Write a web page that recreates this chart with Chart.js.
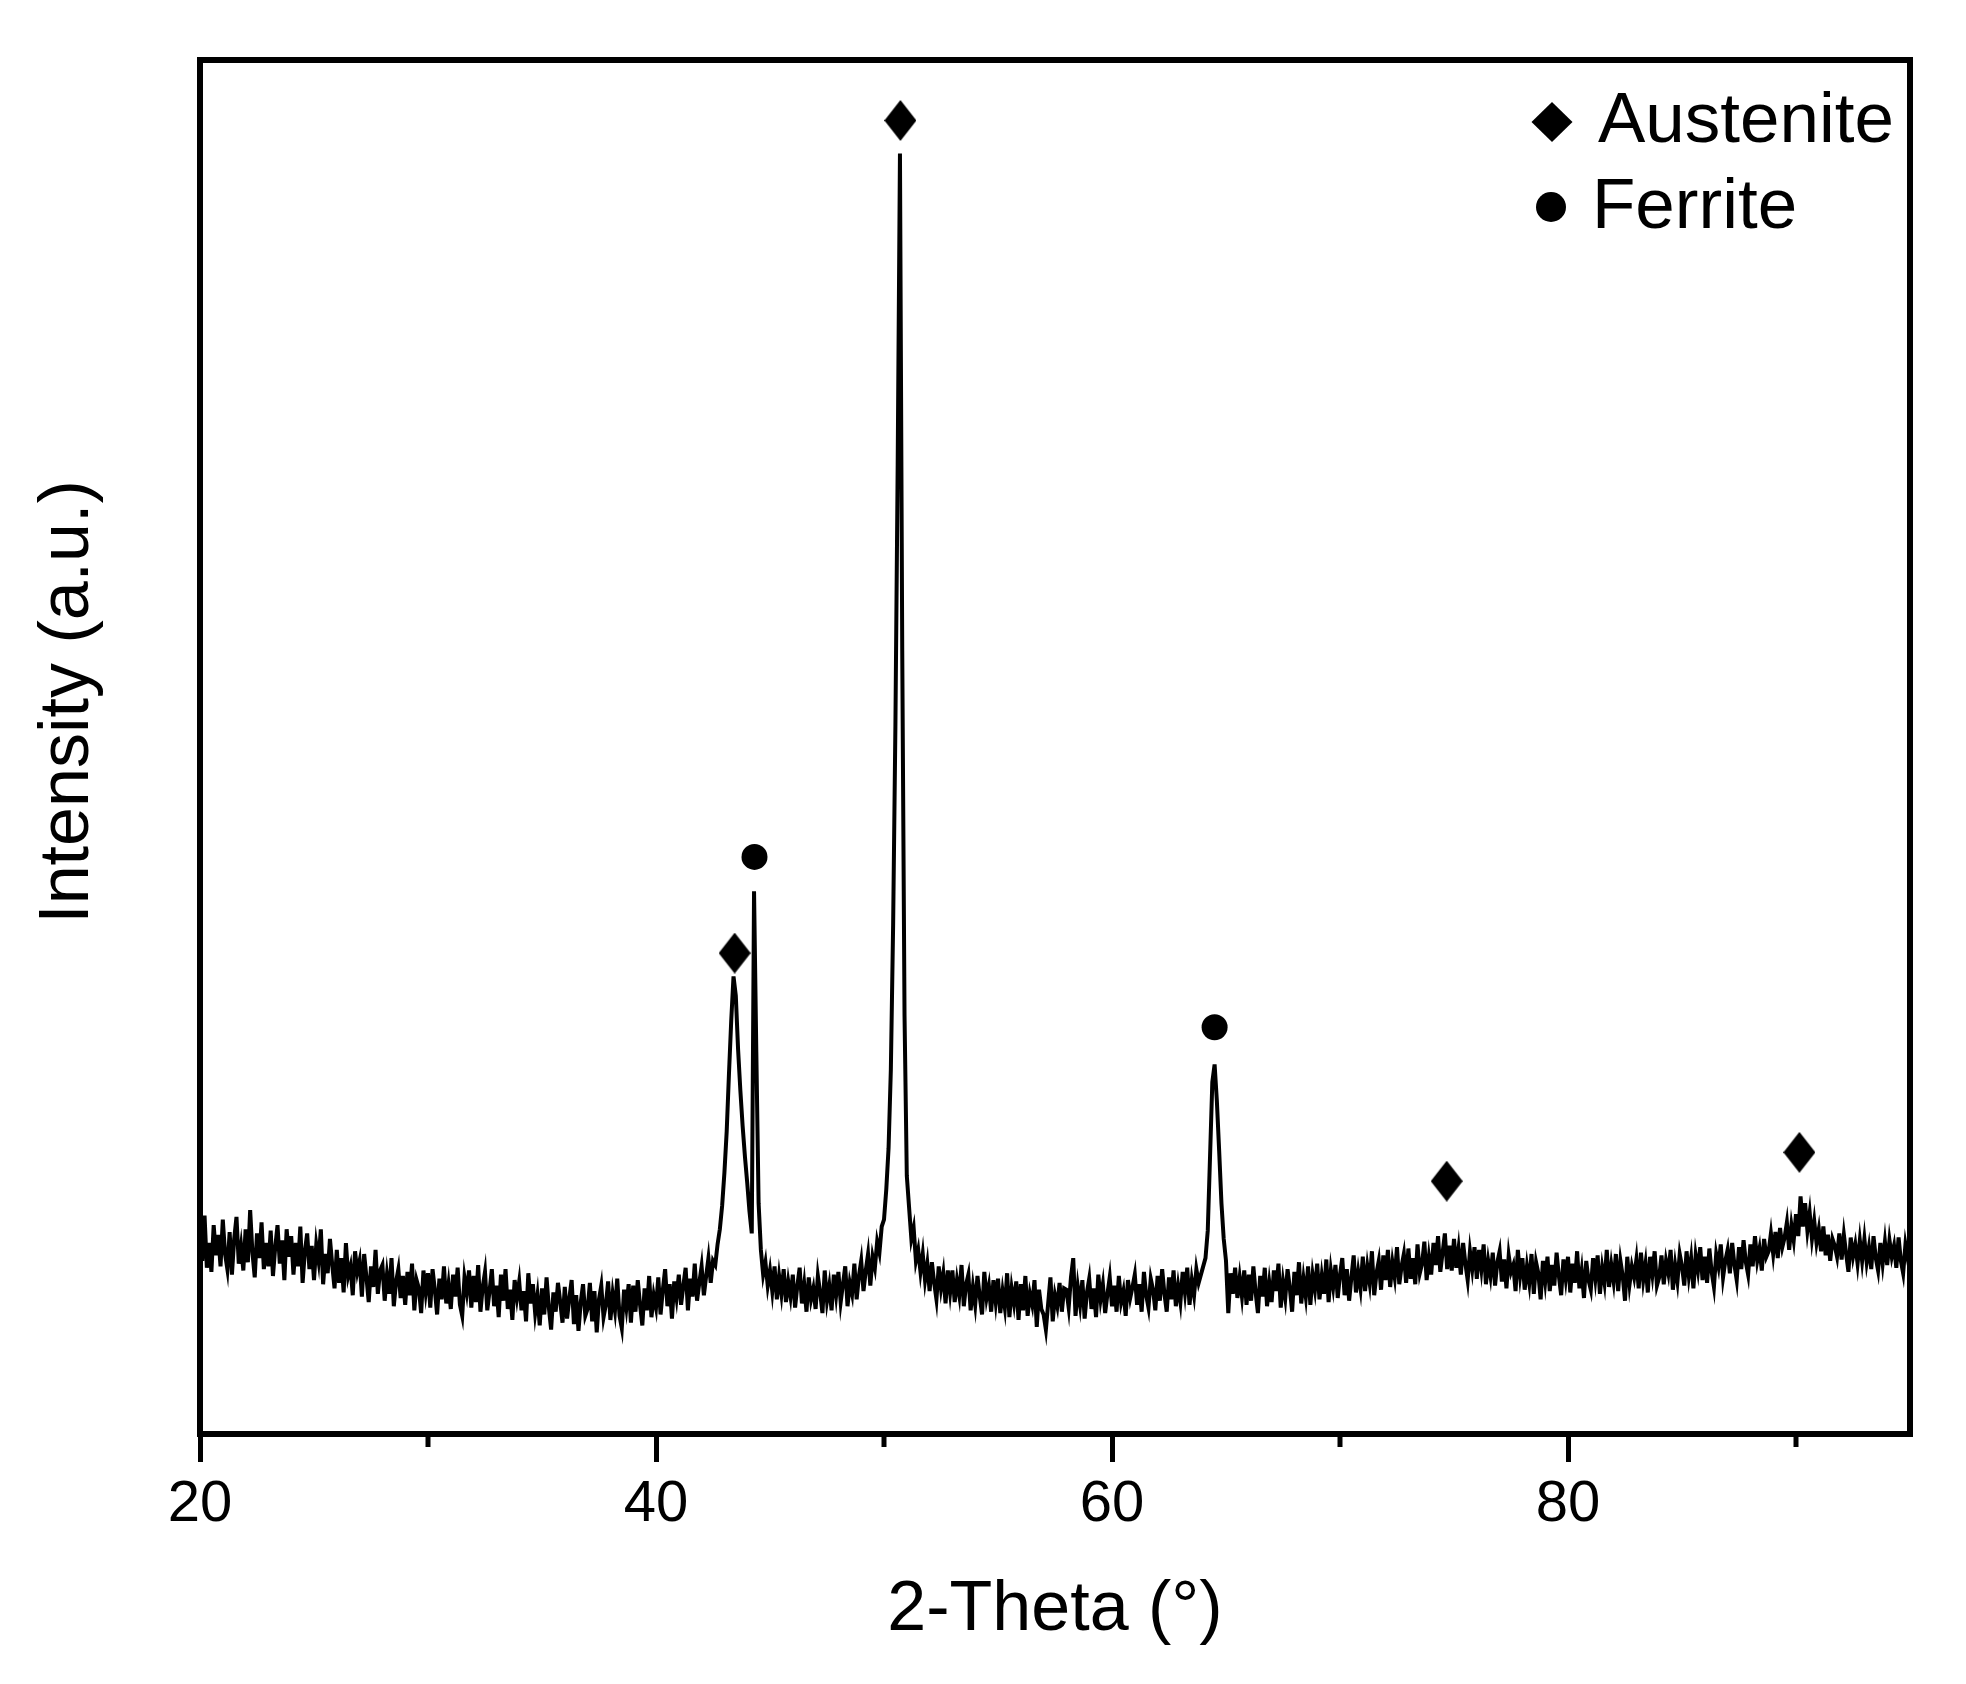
<!DOCTYPE html>
<html>
<head>
<meta charset="utf-8">
<script src="https://cdn.jsdelivr.net/npm/chart.js@4.4.1/dist/chart.umd.min.js"></script>
<style>
  html, body { margin: 0; padding: 0; background: #ffffff; }
  #wrap { width: 1966px; height: 1684px; }
</style>
</head>
<body>
<div id="wrap"><canvas id="c" width="1966" height="1684"></canvas></div>
<script>
// ---- data ----
const thetaStart = 20;      // first 2-theta sample (deg)
const thetaStep = 0.1;      // sampling step (deg)
const intensity = [
  14.8, 12.6, 15.9, 12.1, 13.9, 11.8, 15.2, 13.0, 14.5, 12.2,
  15.6, 13.1, 12.0, 14.7, 11.6, 14.2, 15.8, 12.4, 13.7, 11.9,
  14.9, 12.5, 16.3, 13.2, 11.4, 14.6, 12.8, 15.4, 12.0, 13.9,
  12.2, 14.8, 11.5, 13.6, 15.2, 12.4, 14.1, 11.2, 14.9, 12.9,
  14.4, 11.6, 13.9, 12.2, 15.1, 11.0, 13.3, 14.6, 12.0, 13.7,
  11.2, 13.8, 12.6, 14.9, 10.9, 13.1, 11.7, 14.2, 12.3, 10.6,
  13.4, 11.0, 12.8, 10.3, 13.9, 11.5, 12.2, 10.1, 13.3, 11.8,
  12.6, 10.0, 13.1, 11.4, 9.6, 12.2, 10.7, 13.4, 10.2, 11.9,
  12.3, 9.7, 11.6, 10.2, 12.8, 9.3, 11.1, 12.0, 9.9, 11.5,
  9.4, 11.8, 10.1, 12.4, 9.0, 11.2, 10.6, 8.8, 11.9, 10.3,
  11.7, 9.2, 12.0, 10.5, 8.7, 11.3, 9.8, 12.2, 9.5, 10.9,
  9.1, 11.6, 10.0, 12.1, 9.4, 8.6, 11.4, 10.3, 11.9, 9.2,
  11.5, 9.6, 12.3, 8.9, 10.7, 11.8, 9.0, 10.4, 12.0, 9.3,
  10.8, 8.5, 11.6, 9.7, 12.0, 9.1, 10.5, 8.3, 11.2, 9.9,
  11.1, 9.0, 10.4, 8.2, 11.7, 9.5, 10.9, 8.8, 10.1, 7.9,
  10.6, 8.7, 11.4, 9.2, 7.6, 10.3, 8.9, 11.0, 9.6, 8.1,
  10.7, 8.4, 9.9, 11.2, 8.0, 10.1, 7.5, 9.6, 10.9, 8.6,
  9.1, 11.0, 8.2, 10.4, 7.4, 9.8, 10.8, 8.5, 9.4, 11.1,
  8.3, 10.2, 9.0, 11.3, 8.6, 7.7, 10.5, 9.2, 10.9, 8.1,
  10.8, 8.9, 11.2, 9.4, 7.9, 10.6, 9.0, 11.5, 8.5, 10.1,
  9.2, 11.4, 8.7, 10.5, 12.0, 9.3, 10.9, 8.4, 11.1, 9.9,
  11.6, 9.4, 10.8, 12.1, 9.0, 11.3, 10.0, 12.4, 9.7, 11.0,
  12.2, 10.1, 11.5, 12.8, 11.0, 12.6, 12.3, 13.8, 14.9, 16.6,
  19.0, 22.0, 26.2, 30.1, 33.3, 31.9, 28.0, 25.0, 22.4, 20.2,
  18.3, 16.2, 14.6, 39.5, 27.8, 16.8, 13.4, 11.6, 12.5, 10.8,
  11.9, 10.4, 12.2, 9.8, 11.5, 10.2, 12.0, 9.6, 11.1, 10.0,
  11.6, 9.2, 10.8, 12.1, 9.5, 10.9, 8.9, 11.4, 9.8, 10.6,
  9.1, 11.5, 10.3, 8.8, 11.9, 9.7, 10.8, 9.0, 11.6, 10.1,
  11.8, 9.6, 10.9, 12.2, 9.3, 11.0, 10.2, 12.4, 9.8, 11.5,
  12.6, 10.4, 11.9, 13.1, 10.8, 12.9, 12.1, 14.0, 13.2, 15.1,
  15.6, 17.8, 20.8, 26.5, 37.0, 51.5, 70.5, 93.2, 57.0, 30.5,
  18.8, 16.5, 14.2, 15.0, 12.6, 13.4, 11.8, 13.1, 11.2, 12.4,
  10.4, 12.5, 11.0, 9.8, 12.2, 10.6, 11.7, 9.5, 11.9, 10.3,
  11.9, 9.6, 11.2, 10.1, 12.3, 9.3, 10.9, 11.6, 9.0, 10.7,
  9.4, 11.5, 10.0, 8.7, 11.8, 9.9, 10.8, 8.9, 11.2, 9.6,
  11.3, 8.8, 10.4, 9.2, 11.7, 8.5, 10.6, 9.5, 11.1, 8.3,
  10.9, 9.0, 11.5, 8.6, 10.2, 9.4, 11.2, 7.8, 10.5, 9.1,
  8.7, 7.6, 9.5, 11.4, 8.2, 10.1, 9.3, 11.0, 8.9, 10.6,
  10.5, 9.2, 11.4, 12.8, 8.6, 10.7, 9.4, 11.2, 8.4, 10.3,
  11.3, 9.1, 10.6, 8.5, 11.6, 9.8, 10.9, 8.8, 10.2, 11.4,
  9.3, 10.8, 8.9, 11.5, 9.6, 10.4, 8.6, 11.2, 9.9, 10.7,
  11.6, 9.4, 10.9, 8.9, 11.8, 10.1, 9.2, 11.3, 10.5, 9.0,
  11.5, 9.7, 12.0, 10.2, 8.9, 11.4, 9.8, 11.9, 9.3, 10.8,
  9.6, 11.8, 10.3, 12.1, 9.4, 11.2, 10.1, 12.0, 11.0, 11.6,
  12.2, 12.8, 14.8, 20.2, 25.6, 26.9, 24.2, 20.6, 16.8, 14.2,
  12.6, 8.8, 11.7, 10.2, 12.1, 9.9, 11.4, 10.0, 11.9, 9.4,
  11.6, 9.7, 12.2, 10.3, 8.8, 11.5, 10.0, 12.1, 9.3, 11.0,
  9.6, 11.9, 10.4, 12.4, 9.2, 11.1, 9.9, 12.0, 10.6, 8.9,
  11.8, 10.1, 12.5, 9.5, 11.3, 10.0, 12.2, 9.4, 11.6, 10.5,
  12.4, 9.8, 11.5, 10.2, 12.7, 9.6, 11.9, 10.7, 12.3, 9.9,
  11.6, 12.8, 10.1, 12.0, 9.7, 11.4, 13.0, 10.3, 11.8, 10.6,
  12.9, 10.4, 12.2, 11.0, 13.3, 10.1, 11.7, 12.6, 10.5, 13.0,
  11.2, 13.4, 10.7, 12.5, 11.4, 13.6, 10.9, 12.2, 13.1, 11.0,
  13.5, 11.3, 12.8, 10.9, 13.8, 11.7, 12.4, 14.0, 11.2, 12.9,
  11.6, 13.9, 12.3, 14.4, 11.8, 13.2, 14.6, 12.0, 13.7, 11.9,
  14.2, 12.1, 13.5, 11.6, 13.9, 12.4, 11.2, 13.3, 12.0, 13.6,
  11.3, 13.4, 12.0, 13.8, 10.9, 12.6, 11.5, 13.2, 10.8, 12.5,
  13.3, 11.1, 12.7, 10.6, 13.0, 11.8, 12.3, 10.4, 13.4, 11.5,
  12.8, 10.5, 12.2, 11.0, 13.1, 10.2, 12.5, 11.7, 9.8, 12.6,
  11.1, 12.9, 10.4, 12.3, 10.8, 13.2, 11.5, 10.1, 12.7, 11.3,
  12.9, 10.3, 12.4, 11.0, 13.3, 10.6, 11.9, 9.9, 12.6, 11.2,
  10.5, 12.8, 11.3, 13.0, 10.2, 12.1, 11.0, 13.4, 10.7, 12.3,
  11.1, 13.1, 10.4, 12.6, 11.5, 9.7, 12.9, 10.9, 12.2, 11.4,
  12.7, 10.6, 13.2, 11.2, 12.4, 10.3, 12.9, 11.6, 13.3, 10.8,
  11.4, 13.0, 10.9, 12.6, 11.7, 13.4, 10.5, 12.3, 11.1, 13.1,
  12.2, 10.8, 13.3, 11.5, 12.8, 10.6, 13.0, 11.9, 13.6, 11.2,
  12.9, 11.0, 13.5, 11.8, 10.7, 13.1, 12.2, 13.8, 11.4, 12.6,
  13.4, 11.7, 13.9, 12.3, 11.2, 13.6, 12.0, 14.1, 12.5, 11.6,
  13.8, 12.2, 14.4, 12.6, 13.5, 11.9, 14.2, 12.9, 13.3, 14.6,
  13.1, 14.7, 12.8, 15.0, 13.6, 14.3, 15.4, 13.4, 15.2, 14.1,
  16.0, 14.4, 17.3, 15.1, 16.8, 14.8, 16.1, 14.2, 15.5, 13.9,
  14.9, 13.3, 15.1, 13.0, 14.5, 12.6, 14.2, 13.7, 12.9, 14.6,
  12.7, 14.5, 13.1, 11.8, 14.3, 12.9, 13.8, 12.4, 14.1, 12.6,
  14.2, 12.5, 13.6, 12.0, 14.4, 12.8, 11.9, 13.9, 12.4, 14.0,
  12.3, 14.1, 12.9, 13.7, 12.1, 14.3, 12.6, 11.7, 13.8, 12.8,
  13.6
];

// phase markers placed above the peaks
const austeniteTheta = [43.45, 50.72, 74.68, 90.15];
const austeniteMark  = [35.0, 95.6, 18.4, 20.5];
const ferriteTheta   = [44.32, 64.50];
const ferriteMark    = [42.0, 29.6];

// axis
const xMin = 20, xMax = 95;
const majorTicks = [20, 40, 60, 80];
const minorTicks = [30, 50, 70, 90];
const xTitle = '2-Theta (°)';
const yTitle = 'Intensity (a.u.)';
const legendNames = ['Austenite', 'Ferrite'];

// ---- build ----
const FONT = "'Liberation Sans', Arial, Helvetica, sans-serif";
const pattern = intensity.map((v, i) => ({ x: Math.round((thetaStart + i * thetaStep) * 100) / 100, y: v }));
const austPts = austeniteTheta.map((t, i) => ({ x: t, y: austeniteMark[i] }));
const ferrPts = ferriteTheta.map((t, i) => ({ x: t, y: ferriteMark[i] }));

function diamondCanvas(w, h) {
  const c = document.createElement('canvas');
  c.width = w; c.height = h;
  const g = c.getContext('2d');
  g.fillStyle = '#000';
  g.beginPath();
  g.moveTo(w / 2, 0); g.lineTo(w, h / 2); g.lineTo(w / 2, h); g.lineTo(0, h / 2);
  g.closePath(); g.fill();
  return c;
}
const diamondImg = diamondCanvas(32, 41);

const decorPlugin = {
  id: 'decor',
  afterDraw(chart) {
    const { ctx, chartArea: a, scales } = chart;
    const xs = scales.x;
    ctx.save();
    // minor ticks
    ctx.strokeStyle = '#000';
    ctx.lineWidth = 5;
    minorTicks.forEach(v => {
      const px = xs.getPixelForValue(v);
      ctx.beginPath(); ctx.moveTo(px, a.bottom); ctx.lineTo(px, a.bottom + 13); ctx.stroke();
    });
    // frame
    ctx.lineWidth = 6;
    ctx.strokeRect(a.left, a.top, a.right - a.left, a.bottom - a.top);
    // y title
    ctx.fillStyle = '#000';
    ctx.font = '70px ' + FONT;
    ctx.textAlign = 'center';
    ctx.textBaseline = 'alphabetic';
    ctx.translate(88, 702);
    ctx.rotate(-Math.PI / 2);
    ctx.fillText(yTitle, 0, 0);
    ctx.restore();
    // legend
    ctx.save();
    ctx.fillStyle = '#000';
    ctx.beginPath();
    const dx = 1552, dy = 122, dw = 20.5, dh = 20;
    ctx.moveTo(dx, dy - dh); ctx.lineTo(dx + dw, dy); ctx.lineTo(dx, dy + dh); ctx.lineTo(dx - dw, dy);
    ctx.closePath(); ctx.fill();
    ctx.beginPath(); ctx.arc(1551, 207, 15, 0, Math.PI * 2); ctx.fill();
    ctx.font = '71px ' + FONT;
    ctx.textAlign = 'left';
    ctx.textBaseline = 'alphabetic';
    ctx.fillText(legendNames[0], 1598, 142);
    ctx.fillText(legendNames[1], 1592, 228);
    ctx.restore();
  }
};

new Chart(document.getElementById('c'), {
  type: 'line',
  data: {
    datasets: [
      { label: 'XRD', data: pattern, borderColor: '#000', borderWidth: 4, pointRadius: 0, tension: 0, fill: false, order: 2 },
      { label: legendNames[0], data: austPts, showLine: false, pointStyle: diamondImg, pointRadius: 16, backgroundColor: '#000', borderWidth: 0, order: 1, clip: false },
      { label: legendNames[1], data: ferrPts, showLine: false, pointStyle: 'circle', pointRadius: 13, backgroundColor: '#000', borderColor: '#000', borderWidth: 0, order: 1, clip: false }
    ]
  },
  options: {
    responsive: false,
    animation: false,
    devicePixelRatio: 1,
    layout: { padding: { left: 200, right: 56, top: 60, bottom: 0 } },
    plugins: { legend: { display: false }, tooltip: { enabled: false } },
    scales: {
      x: {
        type: 'linear',
        position: 'bottom',
        min: xMin, max: xMax,
        afterBuildTicks(s) { s.ticks = majorTicks.map(v => ({ value: v })); },
        afterFit(s) { s.height = 250; },
        ticks: { color: '#000', font: { family: FONT, size: 58 }, padding: 8, maxRotation: 0, autoSkip: false },
        grid: { display: true, drawOnChartArea: false, drawTicks: true, tickLength: 28, tickWidth: 5, tickColor: '#000' },
        border: { display: false },
        title: { display: true, text: xTitle, color: '#000', font: { family: FONT, size: 70 }, padding: { top: 0, bottom: 31 } }
      },
      y: {
        type: 'linear',
        min: 0, max: 100,
        display: false
      }
    }
  },
  plugins: [decorPlugin]
});
</script>
</body>
</html>
